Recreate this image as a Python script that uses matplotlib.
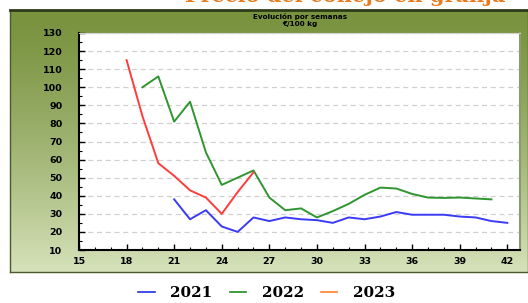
import numpy as np
import matplotlib
matplotlib.use("Agg")
from matplotlib import pyplot as plt
from matplotlib.lines import Line2D

# weekly prices, EUR/100 kg
weeks_2021 = [21, 22, 23, 24, 25, 26, 27, 28, 29, 30, 31, 32, 33, 34, 35, 36, 37, 38, 39, 40, 41, 42]
price_2021 = [38, 27, 32, 23, 20, 28, 26, 28, 27, 26.5, 25, 28, 27, 28.5, 31, 29.5, 29.5, 29.5, 28.5, 28, 26, 25]

weeks_2022 = [19, 20, 21, 22, 23, 24, 25, 26, 27, 28, 29, 30, 31, 32, 33, 34, 35, 36, 37, 38, 39, 40, 41]
price_2022 = [100, 106, 81, 92, 64, 46, 50, 54, 39, 32, 33, 28, 31.5, 35.5, 40.5, 44.5, 44, 41, 39, 38.8, 39, 38.5, 38]

weeks_2023 = [18, 19, 20, 21, 22, 23, 24, 25, 26]
price_2023 = [115, 84, 58, 51, 43, 39, 30, 42, 53]

series_labels = ["2021", "2022", "2023"]
line_colors = ["#3b3bf5", "#2f952f", "#ff3c3c"]
legend_colors = ["#1f2fe0", "#1f8a1f", "#ff7f2a"]
x_ticks = [15, 18, 21, 24, 27, 30, 33, 36, 39, 42]
y_ticks = [10, 20, 30, 40, 50, 60, 70, 80, 90, 100, 110, 120, 130]

W, H = 528, 303
fig = plt.figure(figsize=(W / 100, H / 100), dpi=100)

# green panel with vertical gradient
bg = fig.add_axes([10 / W, 1 - 272 / H, 518 / W, 262 / H])
grad = np.linspace(0, 1, 256).reshape(-1, 1)
top = np.array([0x78, 0x92, 0x3e]) / 255
bot = np.array([0xd6, 0xe2, 0xba]) / 255
img = top + (bot - top) * grad[..., None] ** 1.3
img = img.reshape(256, 1, 3)
bg.imshow(img, aspect="auto", extent=[0, 1, 0, 1])
bg.set_xlim(0, 1)
bg.set_ylim(0, 1)
bg.set_xticks([])
bg.set_yticks([])
for s in bg.spines.values():
    s.set_color("#4a5a2a")
    s.set_linewidth(1.0)
bg.spines["top"].set_color("#2c3a18")
bg.spines["top"].set_linewidth(2)

fig.text(300 / W, 1 - 17 / H, "Evolución por semanas", ha="center", va="center",
         fontsize=5.2, fontweight="bold", color="black")
fig.text(300 / W, 1 - 24 / H, "€/100 kg", ha="center", va="center",
         fontsize=5.2, fontweight="bold", color="black")

# heading above the panel, mostly cut off by the top edge as in the source
fig.text(345 / W, 1 - 1.5 / H, "Precio del conejo en granja", ha="center", va="baseline",
         fontsize=15, fontweight="bold", color="#e87b1e", family="DejaVu Serif")

ax = fig.add_axes([79 / W, 1 - 250 / H, 441 / W, 217 / H])
ax.set_facecolor("white")
ax.plot(weeks_2021, price_2021, color=line_colors[0], lw=1.4, solid_joinstyle="round")
ax.plot(weeks_2022, price_2022, color=line_colors[1], lw=1.4, solid_joinstyle="round")
ax.plot(weeks_2023, price_2023, color=line_colors[2], lw=1.4, solid_joinstyle="round")

ax.set_xlim(15, 42.8)
ax.set_ylim(10, 130)
ax.set_xticks(x_ticks)
ax.set_xticks(np.arange(15, 43, 1), minor=True)
ax.set_yticks(y_ticks)
ax.set_yticks(np.arange(10, 131, 5), minor=True)
ax.grid(axis="y", which="major", color="#d0d0d0", linestyle=(0, (4, 3)), lw=0.9)
ax.tick_params(which="both", direction="in", colors="black", labelsize=6.8)
ax.tick_params(axis="y", pad=12)
ax.tick_params(axis="x", pad=5)
ax.tick_params(which="major", length=4, width=1)
ax.tick_params(which="minor", length=2.5, width=0.8)
for lab in ax.get_xticklabels() + ax.get_yticklabels():
    lab.set_fontweight("bold")
ax.spines["left"].set_linewidth(1.5)
ax.spines["bottom"].set_linewidth(1.5)
ax.spines["top"].set_color("#d0d0d0")
ax.spines["right"].set_color("#8c9a70")
ax.spines["right"].set_linewidth(1.5)

handles = [Line2D([0], [0], color=c, lw=1.2) for c in legend_colors]
fig.legend(handles, series_labels, loc="center", bbox_to_anchor=(0.505, 1 - 293 / H),
           ncol=3, frameon=False, handlelength=1.1, handletextpad=1.0, columnspacing=1.1,
           prop={"family": "DejaVu Serif", "weight": "bold", "size": 11})

fig.savefig("out.png", dpi=100)
